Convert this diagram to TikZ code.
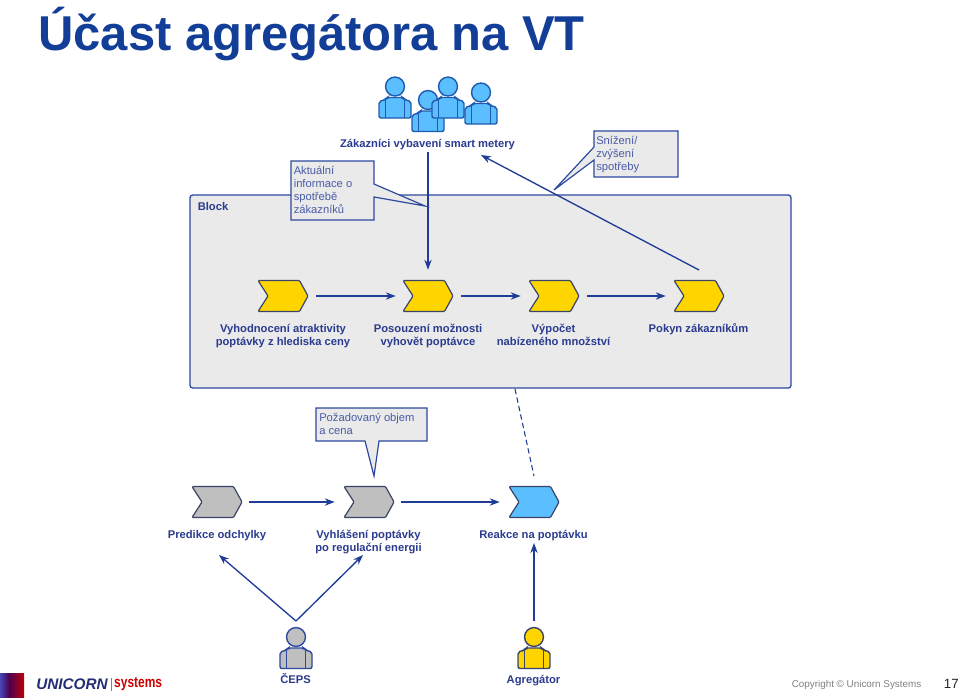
\documentclass[tikz,border=0pt]{standalone}
\usepackage{fontspec}
\setmainfont{Liberation Sans}
\usetikzlibrary{arrows.meta,calc}
\definecolor{navy}{HTML}{2B3B8F}
\definecolor{linec}{HTML}{2E4A9E}
\definecolor{arrowc}{HTML}{1F3C96}
\definecolor{calltxt}{HTML}{4A5CA6}
\definecolor{blockfill}{HTML}{EAEAEA}
\definecolor{gold}{HTML}{FFD500}
\definecolor{greyf}{HTML}{BFBFBF}
\definecolor{skyf}{HTML}{5BBFFF}
\definecolor{titlec}{HTML}{123E98}
\definecolor{edgeg}{HTML}{3A4468}
\definecolor{persedge}{HTML}{1E5BB0}
\tikzset{
  x=0.75pt,y=-0.75pt,
  lbl/.style={font=\fontsize{8.4}{9.75}\selectfont\bfseries,text=navy,align=center,inner sep=0pt},
  calltext/.style={font=\fontsize{8.4}{9.75}\selectfont,text=calltxt,align=left,anchor=north west,inner sep=0pt},
  callout/.style={draw=linec,fill=blockfill,line width=0.9pt,line join=miter},
  conn/.style={draw=arrowc,line width=1pt,-{Stealth[length=7.5pt,width=5.5pt]}},
  slot/.style={minimum width=37.5pt,minimum height=23pt,inner sep=0pt,draw=none,fill=none},
  chevline/.style={draw=edgeg,line width=0.9pt,rounded corners=0.8pt,line join=round},
}
% name, left x, centre y, half height, fill
\newcommand{\chevshape}[5]{%
  \path[chevline,fill=#5] (#2,#3-#4) -- (#2+41.5,#3-#4) -- (#2+50,#3) -- (#2+41.5,#3+#4) -- (#2,#3+#4) -- (#2+10,#3) -- cycle;
  \node[slot] (#1) at (#2+25,#3) {};
}
% name, x, y of head centre, fill, edge
\newcommand{\personshape}[5]{%
  \begin{scope}[shift={(#2,#3)}]
    \path[draw=#5,fill=#4,line width=1.05pt,rounded corners=1.5pt] (-16,31.5) -- (-16,15) -- (-9.5,13) -- (-8,11) -- (8,11) -- (9.5,13) -- (16,15) -- (16,31.5) -- cycle;
    \draw[#5,line width=1.05pt] (-9.5,12.5) -- (-9.5,31.5);
    \draw[#5,line width=1.05pt] (9.5,12.5) -- (9.5,31.5);
    \node[circle,draw=#5,fill=#4,line width=1.05pt,minimum size=14.2pt,inner sep=0pt] (#1) at (0,0) {};
  \end{scope}
}
\begin{document}
\begin{tikzpicture}
\useasboundingbox (0,0) rectangle (960,697);
\fill[white] (0,0) rectangle (960,697);

\node[anchor=base west,inner sep=0pt,font=\fontsize{36.7}{40}\selectfont\bfseries,text=titlec] (title) at (38,50.5) {Účast agregátora na VT};

% block
\node[draw=linec,fill=blockfill,line width=1pt,rounded corners=2pt,minimum width=450.75pt,minimum height=144.75pt,inner sep=0pt] (block) at (490.5,291.5) {};
\node[lbl,anchor=west] (blocklbl) at (197.5,206.5) {Block};

% customers
\personshape{c1}{395}{86.5}{skyf}{persedge}
\personshape{c2}{428}{100}{skyf}{persedge}
\personshape{c3}{448}{86.5}{skyf}{persedge}
\personshape{c4}{481}{92.5}{skyf}{persedge}
\node[lbl] (zak) at (427.5,144.5) {Zákazníci vybavení smart metery};

% top chevrons
\chevshape{t1}{258}{296}{15.5}{gold}
\chevshape{t2}{403}{296}{15.5}{gold}
\chevshape{t3}{529}{296}{15.5}{gold}
\chevshape{t4}{674}{296}{15.5}{gold}
\node[lbl] (t1l) at (283,336) {Vyhodnocení atraktivity\\poptávky z hlediska ceny};
\node[lbl] (t2l) at (428,336) {Posouzení možnosti\\vyhovět poptávce};
\node[lbl] (t3l) at (553.5,335) {Výpočet\\nabízeného množství};
\node[lbl] (t4l) at (698.5,329) {Pokyn zákazníkům};

\draw[conn,shorten <=6pt,shorten >=5.25pt] (t1.east) -- (t2.west);
\draw[conn,shorten <=6pt,shorten >=6pt] (t2.east) -- (t3.west);
\draw[conn,shorten <=6pt,shorten >=6pt] (t3.east) -- (t4.west);

% top callouts
\path[callout] (291,161) -- (374,161) -- (374,184) -- (425,206) -- (374,197) -- (374,220) -- (291,220) -- cycle;
\node[calltext] (info) at (293.5,166) {Aktuální\\informace o\\spotřebě\\zákazníků};
\path[callout] (594,131) -- (678,131) -- (678,177) -- (594,177) -- (594,160) -- (554,190) -- (594,147) -- cycle;
\node[calltext] (sniz) at (596,136) {Snížení/\\zvýšení\\spotřeby};

\coordinate (zakdown) at (428,152);
\coordinate (backstart) at (699,270);
\coordinate (backend) at (481,155);
\draw[conn,shorten >=8pt] (zakdown) -- (t2.north);
\draw[conn] (backstart) -- (backend);

% bottom chevrons
\chevshape{b1}{192}{502}{15.5}{greyf}
\chevshape{b2}{344}{502}{15.5}{greyf}
\chevshape{b3}{509}{502}{15.5}{skyf}
\node[lbl] (b1l) at (217,535.5) {Predikce odchylky};
\node[lbl] (b2l) at (368.5,541.5) {Vyhlášení poptávky\\po regulační energii};
\node[lbl] (b3l) at (533.5,535.5) {Reakce na poptávku};
\draw[conn,shorten <=5.25pt,shorten >=6.75pt] (b1.east) -- (b2.west);
\draw[conn,shorten <=5.25pt,shorten >=6.75pt] (b2.east) -- (b3.west);

\path[callout] (316,408) -- (427,408) -- (427,441) -- (379,441) -- (374,476) -- (365,441) -- (316,441) -- cycle;
\node[calltext] (poz) at (319,413) {Požadovaný objem\\a cena};

\coordinate (dashstart) at (515,389);
\coordinate (dashend) at (534,476);
\draw[arrowc,line width=0.8pt,dash pattern=on 4pt off 2.5pt] (dashstart) -- (dashend);

% actors
\personshape{ceps}{296}{637}{greyf}{linec}
\personshape{agr}{534}{637}{gold}{edgeg}
\node[lbl] (cepsl) at (295.5,679) {ČEPS};
\node[lbl] (agrl) at (533.5,680.5) {Agregátor};

\coordinate (cepstop) at (296,621);
\coordinate (ceparrowa) at (219,555);
\coordinate (ceparrowb) at (363,555);
\coordinate (agrtop) at (534,621);
\coordinate (agrend) at (534,543);
\draw[conn] (cepstop) -- (ceparrowa);
\draw[conn] (cepstop) -- (ceparrowb);
\draw[conn] (agrtop) -- (agrend);

% logo
\fill[left color=blue!45!gray,right color=violet!60!black] (0,673) rectangle (9,697);
\fill[left color=violet!60!black,right color=purple!70!black] (9,673) rectangle (17,697);
\fill[left color=purple!70!black,right color=red!75!black] (17,673) rectangle (24,697);
\node[anchor=west,inner sep=0pt,font=\fontsize{11.5}{12}\selectfont\bfseries\itshape,text=navy!80!black] (uni) at (36,684.5) {UNICORN};
\fill[gray] (110.5,678) rectangle (111.2,691);
\node[anchor=west,inner sep=0pt,font=\fontsize{11.5}{12}\selectfont\bfseries,text=red!80!black,xscale=0.78] (sys) at (114,684.5) {systems};

% footer
\node[anchor=west,inner sep=0pt,font=\fontsize{7.4}{9}\selectfont,text=gray] (copy) at (791.5,684.5) {Copyright © Unicorn Systems};
\node[anchor=east,inner sep=0pt,font=\fontsize{10}{12}\selectfont,text=black!85] (pg) at (959,683.5) {17};
\end{tikzpicture}
\end{document}
